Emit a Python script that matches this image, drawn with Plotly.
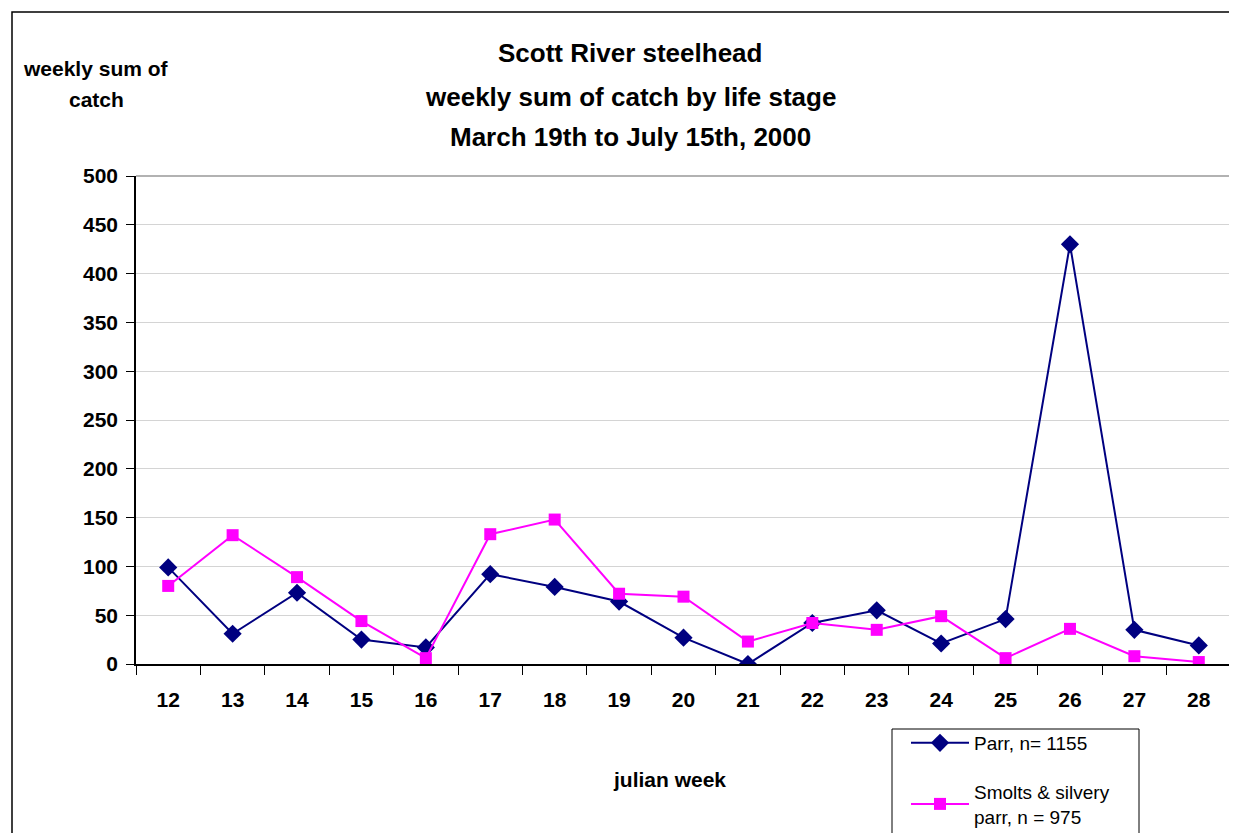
import plotly.graph_objects as go

weeks = ["12", "13", "14", "15", "16", "17", "18", "19", "20", "21", "22", "23", "24", "25", "26", "27", "28"]
parr = [99, 31, 73, 25, 17, 92, 79, 64, 27, 0, 42, 55, 21, 46, 430, 35, 19]
smolts = [80, 132, 89, 44, 6, 133, 148, 72, 69, 23, 42, 35, 49, 6, 36, 8, 2]
yticks = [0, 50, 100, 150, 200, 250, 300, 350, 400, 450, 500]

FONT = "Arial, Liberation Sans, sans-serif"
W, H, OFF = 1237, 833, 8  # the page body has an 8px margin, so the figure is offset by 8px

# page pixel -> paper coordinates (plot area spans x 136..1231, y 176..664 on the page)
def px(x):
    return (x - 136) / 1095

def py(y):
    return (664 - y) / 488

fig = go.Figure()
fig.add_trace(go.Scatter(
    x=weeks, y=parr, mode="lines+markers", name="Parr, n= 1155",
    legendgroup="a",
    line=dict(color="#000080", width=2),
    marker=dict(symbol="diamond", size=14, color="#000080"),
))
fig.add_trace(go.Scatter(
    x=weeks, y=smolts, mode="lines+markers", name="Smolts & silvery<br>parr, n = 975",
    legendgroup="b",
    line=dict(color="#FF00FF", width=2),
    marker=dict(symbol="square", size=12, color="#FF00FF"),
))

fig.update_layout(
    width=W, height=H,
    margin=dict(l=136 - OFF, r=W - (1231 - OFF), t=176 - OFF, b=H - (664 - OFF), autoexpand=False),
    paper_bgcolor="white", plot_bgcolor="white",
    font=dict(family=FONT, color="black"),
    showlegend=True,
    legend=dict(
        xref="container", yref="container",
        x=(906 - OFF) / W, y=1 - (724 - OFF) / H, xanchor="left", yanchor="top",
        borderwidth=0, bgcolor="rgba(0,0,0,0)",
        font=dict(size=19, family=FONT, color="black"),
        traceorder="grouped", tracegroupgap=21, itemwidth=58,
    ),
    xaxis=dict(
        type="category", tickson="boundaries", ticks="outside", ticklen=9,
        tickcolor="black", showline=True, linecolor="black", linewidth=1.5,
        showgrid=False, tickfont=dict(size=21, family=FONT, color="black"),
        ticklabelstandoff=16, range=[-0.5, 16.5], automargin=False,
        tickvals=weeks, ticktext=[f"<b>{w}</b>" for w in weeks],
    ),
    yaxis=dict(
        range=[0, 500], tickvals=yticks, ticktext=[f"<b>{v}</b>" for v in yticks],
        ticks="outside", ticklen=8, tickcolor="black", ticklabelstandoff=4,
        showline=True, linecolor="black", linewidth=1.5,
        showgrid=True, gridcolor="#d4d4d4", gridwidth=1, automargin=False,
        zeroline=False, tickfont=dict(size=21, family=FONT, color="black"),
    ),
)

# plot area gray border (top and right)
fig.add_shape(type="line", xref="paper", yref="paper", x0=0, x1=1, y0=1, y1=1,
              line=dict(color="#999999", width=1.5))
fig.add_shape(type="line", xref="paper", yref="paper", x0=1, x1=1, y0=0, y1=1,
              line=dict(color="#999999", width=1.5))
# outer chart border
fig.add_shape(type="rect", xref="paper", yref="paper",
              x0=px(12), x1=px(1250), y0=py(860), y1=py(12),
              line=dict(color="black", width=1.5), fillcolor="rgba(0,0,0,0)", layer="below")
# legend box
fig.add_shape(type="rect", xref="paper", yref="paper",
              x0=px(892), x1=px(1139), y0=py(860), y1=py(729),
              line=dict(color="black", width=1), fillcolor="rgba(0,0,0,0)", layer="below")

title_lines = [("Scott River steelhead", 53), ("weekly sum of catch by life stage", 97),
               ("March 19th to July 15th, 2000", 137)]
for txt, ypx in title_lines:
    fig.add_annotation(text=f"<b>{txt}</b>", xref="paper", yref="paper",
                       x=px(630), y=py(ypx),
                       showarrow=False, xanchor="center", yanchor="middle",
                       font=dict(size=26, family=FONT, color="black"))

for txt, ypx in [("weekly sum of", 68), ("catch", 100)]:
    fig.add_annotation(text=f"<b>{txt}</b>", xref="paper", yref="paper",
                       x=px(96), y=py(ypx),
                       showarrow=False, xanchor="center", yanchor="middle",
                       font=dict(size=21, family=FONT, color="black"))

fig.add_annotation(text="<b>julian week</b>", xref="paper", yref="paper",
                   x=px(669), y=py(779),
                   showarrow=False, xanchor="center", yanchor="middle",
                   font=dict(size=21, family=FONT, color="black"))

fig.write_html("out.html", config={"displayModeBar": False})
